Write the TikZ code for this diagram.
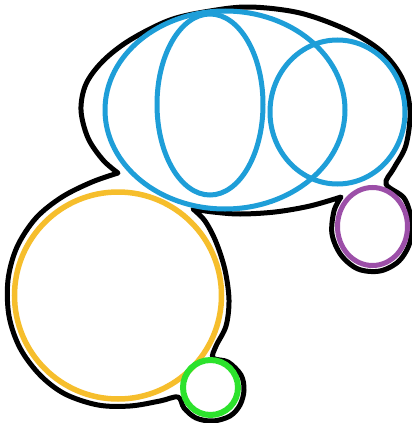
\documentclass[tikz,border=0pt]{standalone}
\usepackage{xcolor}
\usepackage{tikz}
\usetikzlibrary{shapes.geometric}
\definecolor{setblue}{RGB}{30,158,216}
\definecolor{setyellow}{RGB}{246,190,44}
\definecolor{setgreen}{RGB}{44,226,44}
\definecolor{setpurple}{RGB}{156,79,168}

\begin{document}
\begin{tikzpicture}[
  x=1pt, y=-1pt,
  ring/.style={draw, ellipse, inner sep=0pt, line width=5pt},
  hull/.style={draw=black, line width=5pt, line join=round}
]
\fill[white] (0,0) rectangle (412,423);
\useasboundingbox (0,0) rectangle (412,423);

\draw[hull] plot[smooth, tension=0.55] coordinates {(118,173) (103,160) (88,138) (81,110) (86,84) (103,61) (130,40) (170,20) (210,11) (250,7) (300,13) (347,30) (381,51) (402,78) (410,110) (406,145) (394,168) (386,184) (404,198) (411,219) (410,242) (399,261) (380,271) (358,269) (341,255) (332,234) (334,211) (341,197)}
  -- plot[smooth, tension=0.55] coordinates {(341,197) (310,206) (275,212) (240,214) (213,212) (193,209)}
  -- plot[smooth, tension=0.55] coordinates {(193,209) (205,221) (216,242) (225,270) (229,300) (226,326) (216,346) (213,358) (228,362) (241,375) (244,390) (240,405) (230,416) (213,421) (196,418) (184,408) (178,397) (160,401) (130,406) (98,405) (65,394) (40,375) (20,348) (9,316) (8,280) (17,247) (36,218) (62,197) (92,182) (118,173)}
  -- cycle;

\node[ring, draw=setblue, minimum width=240pt, minimum height=198pt] (bigset) at (225,110) {};
\node[ring, draw=setblue, minimum width=106pt, minimum height=181pt] (lensset) at (210,104.5) {};
\node[ring, draw=setblue, minimum width=135pt, minimum height=144pt] (rightset) at (337.5,112) {};
\node[ring, draw=setyellow, line width=5.5pt, minimum width=207pt, minimum height=207pt] (yellowset) at (118,295.5) {};
\node[ring, draw=setgreen, line width=6pt, minimum width=55pt, minimum height=55pt] (greenset) at (210.5,387.5) {};
\node[ring, draw=setpurple, minimum width=70pt, minimum height=78pt] (purpleset) at (372.5,226.5) {};
\end{tikzpicture}
\end{document}
